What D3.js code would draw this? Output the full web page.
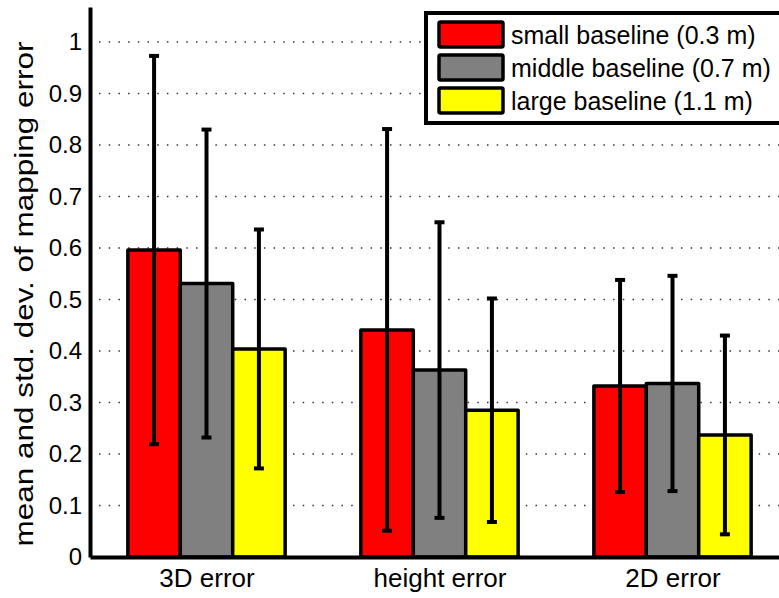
<!DOCTYPE html>
<html>
<head>
<meta charset="utf-8">
<script src="https://cdn.jsdelivr.net/npm/d3@7"></script>
<style>
  body { margin: 0; background: #fff; }
  svg { display: block; font-family: "Liberation Sans", Arial, sans-serif; }
</style>
</head>
<body>
<div id="chart"></div>
<script>
// categories and series
const categories = ['3D error', 'height error', '2D error'];
const seriesNames = ['small baseline (0.3 m)', 'middle baseline (0.7 m)', 'large baseline (1.1 m)'];
const seriesColors = ['#ff0000', '#808080', '#ffff00'];

// means
const smallMean = [0.596, 0.441, 0.332];
const middleMean = [0.531, 0.363, 0.337];
const largeMean = [0.404, 0.285, 0.237];
// std. dev. (half length of error bars)
const smallStd = [0.377, 0.390, 0.206];
const middleStd = [0.299, 0.287, 0.209];
const largeStd = [0.232, 0.217, 0.193];

const yTicks = [0, 0.1, 0.2, 0.3, 0.4, 0.5, 0.6, 0.7, 0.8, 0.9, 1];
const gridTicks = yTicks.slice(1);

const W = 779, H = 598;
const tickFont = 24;
const labelFont = 26;
const legendFont = 25;
const barUnit = 0.225;

const means = [smallMean, middleMean, largeMean];
const stds = [smallStd, middleStd, largeStd];

const svg = d3.select('#chart').append('svg')
  .attr('width', W)
  .attr('height', H);

const x = d3.scaleLinear().domain([0.5, 3.5]).range([90, 789]);
const y = d3.scaleLinear().domain([0, 1.068]).range([557, 7]);

// Dotted grid lines
svg.append('g')
  .selectAll('line')
  .data(gridTicks)
  .enter()
  .append('line')
  .attr('x1', 99)
  .attr('x2', W)
  .attr('y1', d => y(d))
  .attr('y2', d => y(d))
  .attr('stroke', '#333')
  .attr('stroke-width', 1.4)
  .attr('stroke-dasharray', '1.5 8.2');

// Bars
const bars = [];
means.forEach((arr, j) => {
  arr.forEach((v, i) => {
    bars.push({ series: j, cat: i, mean: v, std: stds[j][i], center: i + 1 + (j - 1) * barUnit });
  });
});

svg.append('g')
  .selectAll('rect')
  .data(bars)
  .enter()
  .append('rect')
  .attr('x', d => x(d.center - barUnit / 2))
  .attr('width', d => x(d.center + barUnit / 2) - x(d.center - barUnit / 2))
  .attr('y', d => y(d.mean))
  .attr('height', d => y(0) - y(d.mean))
  .attr('fill', d => seriesColors[d.series])
  .attr('stroke', '#000')
  .attr('stroke-width', 3.5)
  .attr('stroke-linejoin', 'round');

// Error bars
const eb = svg.append('g');
eb.selectAll('line.stem')
  .data(bars)
  .enter()
  .append('line')
  .attr('class', 'stem')
  .attr('x1', d => x(d.center))
  .attr('x2', d => x(d.center))
  .attr('y1', d => y(d.mean - d.std))
  .attr('y2', d => y(d.mean + d.std))
  .attr('stroke', '#000')
  .attr('stroke-width', 4);
['lo', 'hi'].forEach(end => {
  eb.selectAll('line.cap-' + end)
    .data(bars)
    .enter()
    .append('line')
    .attr('class', 'cap-' + end)
    .attr('x1', d => x(d.center) - 5)
    .attr('x2', d => x(d.center) + 5)
    .attr('y1', d => y(end === 'lo' ? d.mean - d.std : d.mean + d.std))
    .attr('y2', d => y(end === 'lo' ? d.mean - d.std : d.mean + d.std))
    .attr('stroke', '#000')
    .attr('stroke-width', 4);
});

// Y axis
const yAxis = svg.append('g')
  .attr('transform', `translate(${x(0.5)},0)`)
  .call(d3.axisLeft(y).tickValues(yTicks).tickSize(0).tickPadding(8).tickFormat(d3.format('')));
yAxis.select('.domain').attr('stroke', '#000').attr('stroke-width', 4);
yAxis.selectAll('text')
  .style('font-size', tickFont + 'px')
  .style('font-family', '"Liberation Sans", Arial, sans-serif')
  .attr('fill', '#000');

// X axis
const xAxis = svg.append('g')
  .attr('transform', `translate(0,${y(0)})`)
  .call(d3.axisBottom(x).tickValues([1, 2, 3]).tickSize(0).tickPadding(12).tickFormat(d => categories[d - 1]));
xAxis.select('.domain').attr('stroke', '#000').attr('stroke-width', 4);
xAxis.selectAll('text')
  .style('font-size', labelFont + 'px')
  .style('font-family', '"Liberation Sans", Arial, sans-serif')
  .attr('fill', '#000');

// Y label
svg.append('text')
  .attr('transform', `translate(33,294) rotate(-90)`)
  .attr('text-anchor', 'middle')
  .attr('textLength', 505)
  .attr('lengthAdjust', 'spacingAndGlyphs')
  .style('font-size', labelFont + 'px')
  .text('mean and std. dev. of mapping error');

// Legend
const legend = svg.append('g');
legend.append('rect')
  .attr('x', 426)
  .attr('y', 13)
  .attr('width', 400)
  .attr('height', 110)
  .attr('fill', '#fff')
  .attr('stroke', '#000')
  .attr('stroke-width', 4);
const rows = legend.selectAll('g.row')
  .data(seriesNames)
  .enter()
  .append('g')
  .attr('class', 'row')
  .attr('transform', (d, i) => `translate(0,${i * 33})`);
rows.append('rect')
  .attr('x', 439)
  .attr('y', 22)
  .attr('width', 64)
  .attr('height', 25)
  .attr('rx', 1.5)
  .attr('fill', (d, i) => seriesColors[i])
  .attr('stroke', '#000')
  .attr('stroke-width', 3.5);
rows.append('text')
  .attr('x', 511)
  .attr('y', 44)
  .style('font-size', legendFont + 'px')
  .text(d => d);
</script>
</body>
</html>
